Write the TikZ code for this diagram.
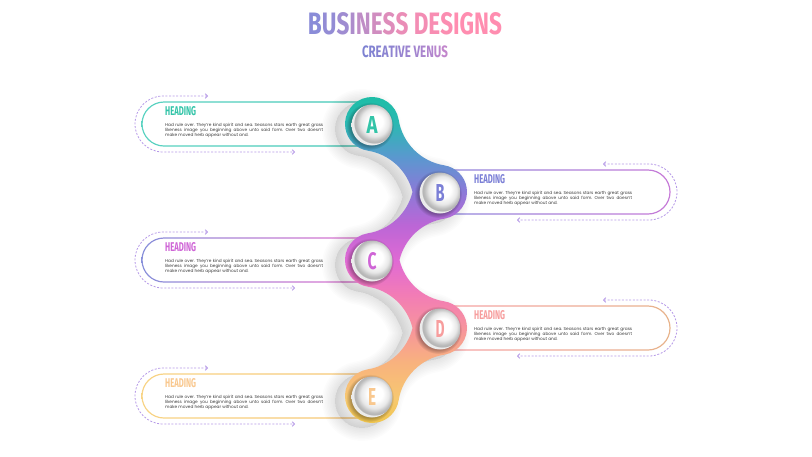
\documentclass[tikz,border=0pt]{standalone}
\usepackage{fontspec}
\setmainfont{Poppins}
\newfontfamily\headfont{Fira Sans}
\usetikzlibrary{arrows.meta,fadings}
\frenchspacing

\definecolor{g1}{HTML}{EFC54A}
\definecolor{g2}{HTML}{F7C870}
\definecolor{g3}{HTML}{F8B27E}
\definecolor{g4}{HTML}{F7949C}
\definecolor{g5}{HTML}{F27CB6}
\definecolor{g6}{HTML}{E06AD4}
\definecolor{g7}{HTML}{BB66D6}
\definecolor{g8}{HTML}{8A7AD8}
\definecolor{g9}{HTML}{5A98CF}
\definecolor{g10}{HTML}{2BB8B2}
\definecolor{g11}{HTML}{1DBEA6}
\definecolor{dashc}{HTML}{B79BE8}
\definecolor{bodyc}{HTML}{3A3A3A}
\definecolor{hA}{HTML}{33C4A8}
\definecolor{hB}{HTML}{7B7FD6}
\definecolor{hC}{HTML}{CF65D6}
\definecolor{hD}{HTML}{F79D9D}
\definecolor{hE}{HTML}{F9C88F}
\definecolor{bA1}{HTML}{5CD3C2}
\definecolor{bA2}{HTML}{3CC6B4}
\definecolor{bB1}{HTML}{8E86DC}
\definecolor{bB2}{HTML}{C77BD8}
\definecolor{bC1}{HTML}{8890DA}
\definecolor{bC2}{HTML}{E470CF}
\definecolor{bD1}{HTML}{F7A0A4}
\definecolor{bD2}{HTML}{E8B48C}
\definecolor{bE1}{HTML}{F8D486}
\definecolor{bE2}{HTML}{F7C672}
\definecolor{tblue}{HTML}{8A8CD8}
\definecolor{tpink}{HTML}{FF8DB0}
\definecolor{sblue}{HTML}{7E82D2}
\definecolor{spink}{HTML}{C286CC}

\pgfdeclareverticalshading{chaingrad}{100bp}{color(0bp)=(g1); color(25bp)=(g1); color(29bp)=(g2); color(34.5bp)=(g3); color(39.6bp)=(g4); color(44.8bp)=(g5); color(49.9bp)=(g6); color(55.3bp)=(g7); color(60.5bp)=(g8); color(65.6bp)=(g9); color(70.7bp)=(g10); color(75bp)=(g11); color(100bp)=(g11)}
\pgfdeclareradialshading{pearl}{\pgfpoint{5bp}{5bp}}{color(0bp)=(white); color(9bp)=(white); color(17bp)=(black!9); color(22bp)=(black!26); color(24bp)=(black!30); color(25bp)=(black!8); color(50bp)=(black!8)}

\def\chainpath{(398.66,-119.73) arc[start angle=9.1, end angle=260.9, radius=27]
 arc[start angle=80.9, end angle=13.64, radius=55]
 arc[start angle=-13.64, end angle=-80.9, radius=55]
 arc[start angle=99.1, end angle=260.9, radius=27]
 arc[start angle=80.9, end angle=13.64, radius=55]
 arc[start angle=-13.64, end angle=-80.9, radius=55]
 arc[start angle=99.1, end angle=350.9, radius=27]
 arc[start angle=170.9, end angle=99.1, radius=55]
 arc[start angle=-80.9, end angle=80.9, radius=27]
 arc[start angle=260.9, end angle=193.64, radius=55]
 arc[start angle=166.36, end angle=99.1, radius=55]
 arc[start angle=-80.9, end angle=80.9, radius=27]
 arc[start angle=260.9, end angle=189.1, radius=55] -- cycle}

\tikzset{
 dashline/.style={draw=dashc, line width=0.8pt, dash pattern=on 2pt off 1.6pt,
   {Straight Barb[length=2.2pt,width=4.5pt]}-{Straight Barb[length=2.2pt,width=4.5pt]}},
 headtxt/.style={inner sep=0pt, anchor=south west},
 bodytxt/.style={inner sep=0pt, anchor=base west, text=bodyc, font=\fontsize{4.25}{5}\selectfont},
 ball/.style={circle, minimum size=41pt, inner sep=0pt, shade, shading=pearl},
}

\newcommand{\LeftItem}[3]{%
 \draw[dashline] (208,-#1+28) -- (163,-#1+28) arc[start angle=90,end angle=270,radius=28] -- (295,-#1-28);
 \fill[white] (372,-#1+22) -- (164,-#1+22) arc[start angle=90,end angle=270,radius=22] -- (372,-#1-22) -- cycle;
 \path[left color=#2,right color=#3,even odd rule]
   (372,-#1+22.6) -- (164,-#1+22.6) arc[start angle=90,end angle=270,radius=22.6] -- (372,-#1-22.6) -- cycle
   (372,-#1+21.4) -- (164,-#1+21.4) arc[start angle=90,end angle=270,radius=21.4] -- (372,-#1-21.4) -- cycle;
}
\newcommand{\RightItem}[3]{%
 \draw[dashline] (603,-#1+28) -- (649,-#1+28) arc[start angle=90,end angle=-90,radius=28] -- (517,-#1-28);
 \fill[white] (440,-#1+22) -- (648,-#1+22) arc[start angle=90,end angle=-90,radius=22] -- (440,-#1-22) -- cycle;
 \path[left color=#2,right color=#3,even odd rule]
   (440,-#1+22.6) -- (648,-#1+22.6) arc[start angle=90,end angle=-90,radius=22.6] -- (440,-#1-22.6) -- cycle
   (440,-#1+21.4) -- (648,-#1+21.4) arc[start angle=90,end angle=-90,radius=21.4] -- (440,-#1-21.4) -- cycle;
}
\newcommand{\ItemText}[4]{% id, x, cy, heading colour
 \node[headtxt, text=#4] (#1h) at (#2,-#3+8) {\resizebox{31pt}{9pt}{\headfont\bfseries HEADING}};
 \node[bodytxt] (#1l1) at (#2,-#3-2.5) {\makebox[158pt][s]{Had rule over. They're kind spirit and sea. Seasons stars earth great grass}};
 \node[bodytxt] (#1l2) at (#2,-#3-7.5) {\makebox[158pt][s]{likeness image you beginning above unto said form. Over two doesn't}};
 \node[bodytxt] (#1l3) at (#2,-#3-12.5) {make moved herb appear without and.};
}
\newcommand{\titlel}[2]{\textcolor{tpink!#1!tblue}{#2}}
\newcommand{\subl}[2]{\textcolor{spink!#1!sblue}{#2}}

\begin{document}
\begin{tikzpicture}[x=1pt,y=1pt]
\path[use as bounding box, fill=white] (0,0) rectangle (812,-456);

% boxes
\LeftItem{124}{bA1}{bA2}
\RightItem{192}{bB1}{bB2}
\LeftItem{260}{bC1}{bC2}
\RightItem{328}{bD1}{bD2}
\LeftItem{396}{bE1}{bE2}

% soft shadow of the chain
\begin{scope}[shift={(-10,-5)}]
\foreach \w in {2,5,...,26}{
  \path[fill=black, draw=black, line width=\w pt, fill opacity=0.006, draw opacity=0.013, line join=round] \chainpath;
}
\end{scope}

% chain
\shade[shading=chaingrad] \chainpath;

% ball shadows
\foreach \cx/\cy in {372/124,440/192,372/260,440/328,372/396}{
  \fill[black, opacity=0.3, path fading=circle with fuzzy edge 20 percent] (\cx-2,-\cy-2) circle (24);
}

% balls
\node[ball, text=hA] (A) at (372,-125) {\resizebox{11pt}{17pt}{\headfont\bfseries A}};
\node[ball, text=hB] (B) at (440,-193) {\resizebox{9pt}{17pt}{\headfont\bfseries B}};
\node[ball, text=hC] (C) at (372,-261) {\resizebox{9pt}{17pt}{\headfont\bfseries C}};
\node[ball, text=hD] (D) at (440,-329) {\resizebox{9pt}{17pt}{\headfont\bfseries D}};
\node[ball, text=hE] (E) at (372,-397) {\resizebox{8pt}{17pt}{\headfont\bfseries E}};

% texts
\ItemText{a}{165}{124}{hA}
\ItemText{b}{474}{192}{hB}
\ItemText{c}{165}{260}{hC}
\ItemText{d}{474}{328}{hD}
\ItemText{e}{165}{396}{hE}

% title
\node[inner sep=0pt, anchor=south] (title) at (405,-35) {\resizebox{194pt}{22pt}{\headfont\bfseries
 \titlel{0}{B}\titlel{8}{U}\titlel{18}{S}\titlel{30}{I}\titlel{45}{N}\titlel{60}{E}\titlel{72}{S}\titlel{82}{S} \titlel{90}{D}\titlel{94}{E}\titlel{97}{S}\titlel{100}{I}\titlel{100}{G}\titlel{100}{N}\titlel{100}{S}}};
\node[inner sep=0pt, anchor=south] (subtitle) at (405,-58.3) {\resizebox{86pt}{11.7pt}{\headfont\bfseries
 \subl{0}{C}\subl{6}{R}\subl{12}{E}\subl{18}{A}\subl{24}{T}\subl{30}{I}\subl{36}{V}\subl{42}{E} \subl{55}{V}\subl{65}{E}\subl{75}{N}\subl{88}{U}\subl{100}{S}}};
\end{tikzpicture}
\end{document}
